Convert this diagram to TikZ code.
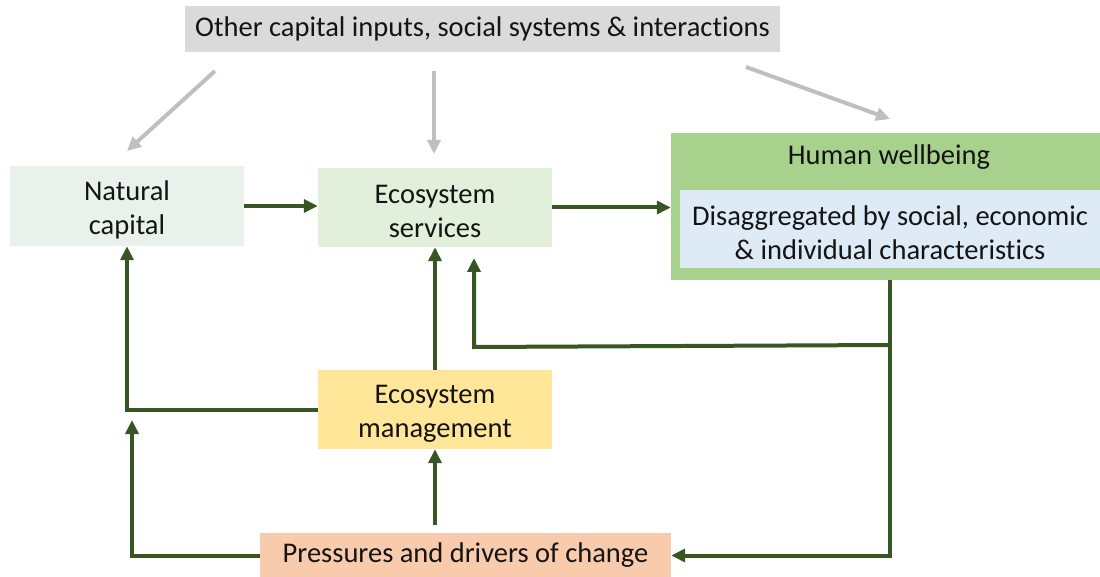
\documentclass[tikz,border=0pt]{standalone}
\usepackage{fontspec}
\setmainfont[Ligatures={NoCommon}]{Carlito}
\usetikzlibrary{arrows.meta}
\definecolor{lgreen}{HTML}{375623}
\definecolor{lgray}{HTML}{BFBFBF}
\definecolor{topgray}{HTML}{DADADA}
\definecolor{ncfill}{HTML}{E8F2EA}
\definecolor{esfill}{HTML}{E2EFDA}
\definecolor{hwfill}{HTML}{A9D18E}
\definecolor{hwinner}{HTML}{DEEBF7}
\definecolor{emfill}{HTML}{FFE699}
\definecolor{pdfill}{HTML}{F8CBAD}
\definecolor{txt}{HTML}{141414}
\newcommand{\lowr}{\rule{0pt}{27pt}}
\tikzset{
  box/.style={rectangle, inner sep=0pt, align=center, text=txt,
    font=\fontsize{28.5}{34}\selectfont},
  garrow/.style={draw=lgreen, line width=4pt,
    -{Triangle[length=14pt,width=13pt]}},
  grayarrow/.style={draw=lgray, line width=4pt,
    -{Triangle[length=14pt,width=13pt]}},
}
\begin{document}
\begin{tikzpicture}[x=1pt,y=-1pt]
\useasboundingbox (0,0) rectangle (1100,577);
% nodes
\node[box, fill=topgray, minimum width=595pt, minimum height=46pt] (top) at (482.5,29) {Other capital inputs, social systems \& interactions};
\node[box, fill=ncfill, minimum width=234pt, minimum height=80pt] (nc) at (127,206) {\lowr Natural\\capital};
\node[box, fill=esfill, minimum width=234pt, minimum height=79pt] (es) at (435,207.5) {\lowr Ecosystem\\services};
\node[box, fill=hwfill, minimum width=429pt, minimum height=147pt] (hw) at (885.5,206.5) {};
\node[box] (hwt) at (889,157) {Human wellbeing};
\node[box, fill=hwinner, minimum width=420pt, minimum height=78pt] (hwi) at (890,229) {\lowr Disaggregated by social, economic\\\& individual characteristics};
\node[box, fill=emfill, minimum width=234pt, minimum height=79pt] (em) at (435,409.5) {\lowr Ecosystem\\management};
\node[box, fill=pdfill, minimum width=411pt, minimum height=45pt] (pd) at (465.5,555.5) {Pressures and drivers of change};
% coordinates
\coordinate (g1s) at (215,71);
\coordinate (g1e) at (127,151);
\coordinate (g2s) at (434,71);
\coordinate (g2e) at (434,154);
\coordinate (g3s) at (746,67);
\coordinate (g3e) at (890,119);
\coordinate (j) at (890,345);
\coordinate (k) at (474,347);
\coordinate (ke) at (474,258);
\coordinate (c3) at (132,420);
% gray arrows
\draw[grayarrow] (g1s) -- (g1e);
\draw[grayarrow] (g2s) -- (g2e);
\draw[grayarrow] (g3s) -- (g3e);
% green arrows
\draw[garrow] (nc.east) -- (nc.east -| es.west);
\draw[garrow] (es.east) -- (es.east -| hw.west);
\draw[garrow] (em.north) -- (es.south);
\draw[garrow] (em.west) -| (nc.south);
\draw[garrow] (pd.west) -| (c3);
\draw[garrow, shorten <=8pt] (em.south |- pd.north) -- (em.south);
\draw[garrow] (hw.south -| j) |- (pd.east);
\draw[garrow] (j) -- (k) -- (ke);
\end{tikzpicture}
\end{document}
